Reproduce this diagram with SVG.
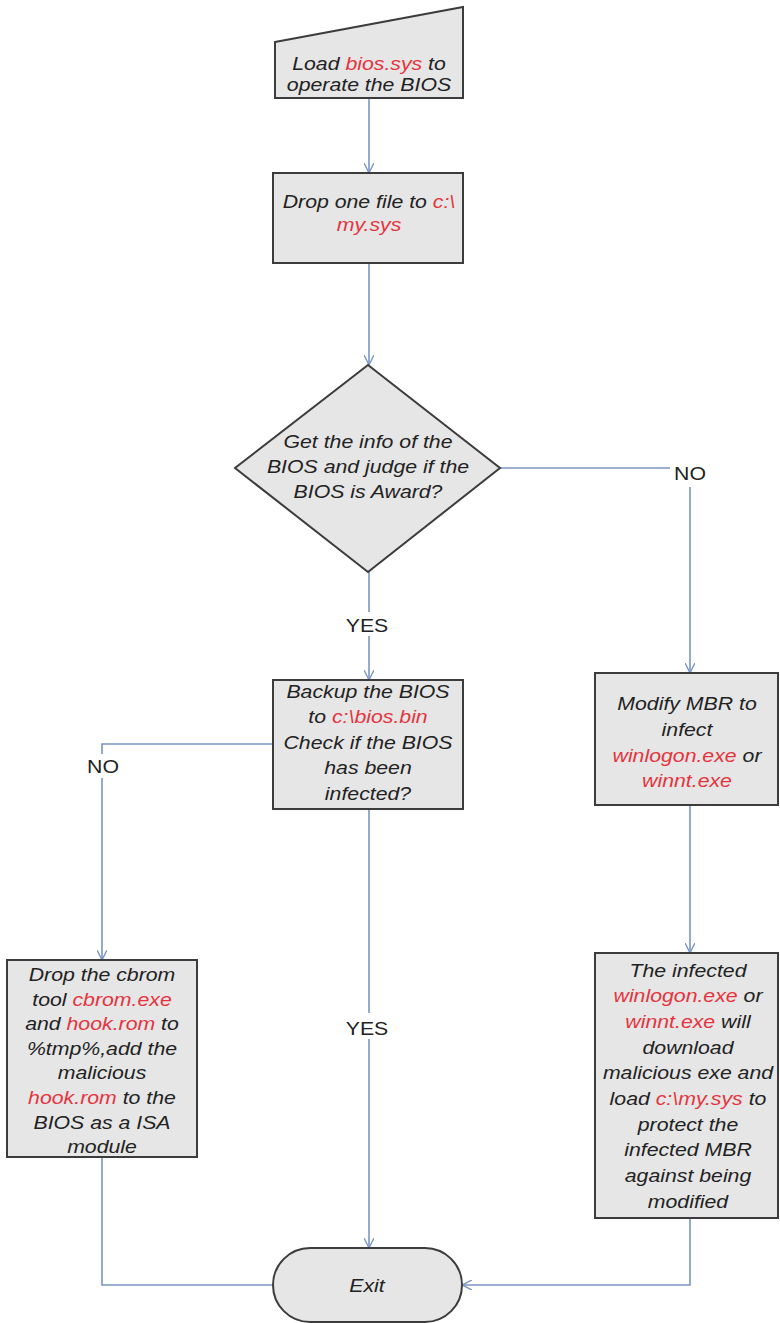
<svg xmlns="http://www.w3.org/2000/svg" width="780" height="1323" viewBox="0 0 780 1323">
<defs>
<style>
.shape{fill:#e6e6e6;stroke:#3c3c3c;stroke-width:2}
.conn{fill:none;stroke:#7b95c4;stroke-width:1.6}
.t{font-family:"Liberation Sans",Arial,sans-serif;font-size:19px;font-style:italic;fill:#222;text-anchor:middle}
.r{fill:#e5343e}
.lbl{font-family:"Liberation Sans",Arial,sans-serif;font-size:19px;fill:#222;text-anchor:middle}
.bg{fill:#ffffff}
</style>
<marker id="arr" viewBox="0 0 10 10" refX="10" refY="5" markerWidth="10" markerHeight="10" markerUnits="userSpaceOnUse" orient="auto">
<path d="M0,0 L10,5 L0,10" fill="none" stroke="#7b95c4" stroke-width="1.4"/>
</marker>
</defs>
<rect width="780" height="1323" fill="#ffffff"/>

<g id="connectors">
<path class="conn" d="M369,98 L369,173" marker-end="url(#arr)"/>
<path class="conn" d="M369,263 L369,365" marker-end="url(#arr)"/>
<path class="conn" d="M369,572 L369,680" marker-end="url(#arr)"/>
<path class="conn" d="M500,468 L690,468 L690,673" marker-end="url(#arr)"/>
<path class="conn" d="M273,744 L102,744 L102,960" marker-end="url(#arr)"/>
<path class="conn" d="M369,809 L369,1248" marker-end="url(#arr)"/>
<path class="conn" d="M690,805 L690,953" marker-end="url(#arr)"/>
<path class="conn" d="M102,1157 L102,1285 L273,1285"/>
<path class="conn" d="M690,1218 L690,1285 L462,1285" marker-end="url(#arr)"/>
<g id="labels">
<rect class="bg" x="344" y="612" width="46" height="24"/>
<g transform="translate(367 0) scale(1.12 1)"><text class="lbl" x="0" y="632">YES</text></g>
<rect class="bg" x="344" y="1013" width="46" height="26"/>
<g transform="translate(367 0) scale(1.12 1)"><text class="lbl" x="0" y="1035">YES</text></g>
<rect class="bg" x="670" y="461" width="40" height="26"/>
<g transform="translate(690 0) scale(1.12 1)"><text class="lbl" x="0" y="480">NO</text></g>
<rect class="bg" x="84" y="754" width="38" height="24"/>
<g transform="translate(103 0) scale(1.12 1)"><text class="lbl" x="0" y="773">NO</text></g>
</g>
</g>

<g id="load-bios">
<polygon class="shape" points="275,42 463,7 463,98 275,98"/>
<g transform="translate(369 0) scale(1.12 1)">
<text class="t" x="0" y="70">Load <tspan class="r">bios.sys</tspan> to</text>
<text class="t" x="0" y="91">operate the BIOS</text>
</g>
</g>

<g id="drop-file">
<rect class="shape" x="273" y="173" width="190" height="90"/>
<g transform="translate(369 0) scale(1.12 1)">
<text class="t" x="0" y="208">Drop one file to <tspan class="r">c:\</tspan></text>
<text class="t r" x="0" y="231">my.sys</text>
</g>
</g>

<g id="judge-bios">
<polygon class="shape" points="368,365 500,468 368,572 235,468"/>
<g transform="translate(368 0) scale(1.12 1)">
<text class="t" x="0" y="448">Get the info of the</text>
<text class="t" x="0" y="473">BIOS and judge if the</text>
<text class="t" x="0" y="498">BIOS is Award?</text>
</g>
</g>

<g id="backup-bios">
<rect class="shape" x="273" y="680" width="190" height="129"/>
<g transform="translate(368 0) scale(1.12 1)">
<text class="t" x="0" y="698">Backup the BIOS</text>
<text class="t" x="0" y="723">to <tspan class="r">c:\bios.bin</tspan></text>
<text class="t" x="0" y="749">Check if the BIOS</text>
<text class="t" x="0" y="774">has been</text>
<text class="t" x="0" y="800">infected?</text>
</g>
</g>

<g id="modify-mbr">
<rect class="shape" x="595" y="673" width="183" height="132"/>
<g transform="translate(687 0) scale(1.12 1)">
<text class="t" x="0" y="710">Modify MBR to</text>
<text class="t" x="0" y="736">infect</text>
<text class="t" x="0" y="762"><tspan class="r">winlogon.exe</tspan> or</text>
<text class="t r" x="0" y="787">winnt.exe</text>
</g>
</g>

<g id="drop-cbrom">
<rect class="shape" x="7" y="960" width="190" height="197"/>
<g transform="translate(102 0) scale(1.12 1)">
<text class="t" x="0" y="981">Drop the cbrom</text>
<text class="t" x="0" y="1006">tool <tspan class="r">cbrom.exe</tspan></text>
<text class="t" x="0" y="1030">and <tspan class="r">hook.rom</tspan> to</text>
<text class="t" x="0" y="1055">%tmp%,add the</text>
<text class="t" x="0" y="1079">malicious</text>
<text class="t" x="0" y="1104"><tspan class="r">hook.rom</tspan> to the</text>
<text class="t" x="0" y="1129">BIOS as a ISA</text>
<text class="t" x="0" y="1153">module</text>
</g>
</g>

<g id="infected-winlogon">
<rect class="shape" x="595" y="953" width="183" height="265"/>
<g transform="translate(688 0) scale(1.12 1)">
<text class="t" x="0" y="977">The infected</text>
<text class="t" x="0" y="1002"><tspan class="r">winlogon.exe</tspan> or</text>
<text class="t" x="0" y="1028"><tspan class="r">winnt.exe</tspan> will</text>
<text class="t" x="0" y="1054">download</text>
<text class="t" x="0" y="1079">malicious exe and</text>
<text class="t" x="0" y="1105">load <tspan class="r">c:\my.sys</tspan> to</text>
<text class="t" x="0" y="1131">protect the</text>
<text class="t" x="0" y="1156">infected MBR</text>
<text class="t" x="0" y="1182">against being</text>
<text class="t" x="0" y="1208">modified</text>
</g>
</g>

<g id="exit">
<rect class="shape" x="273" y="1248" width="189" height="74" rx="37" ry="37"/>
<g transform="translate(367 0) scale(1.12 1)">
<text class="t" x="0" y="1292">Exit</text>
</g>
</g>
</svg>
